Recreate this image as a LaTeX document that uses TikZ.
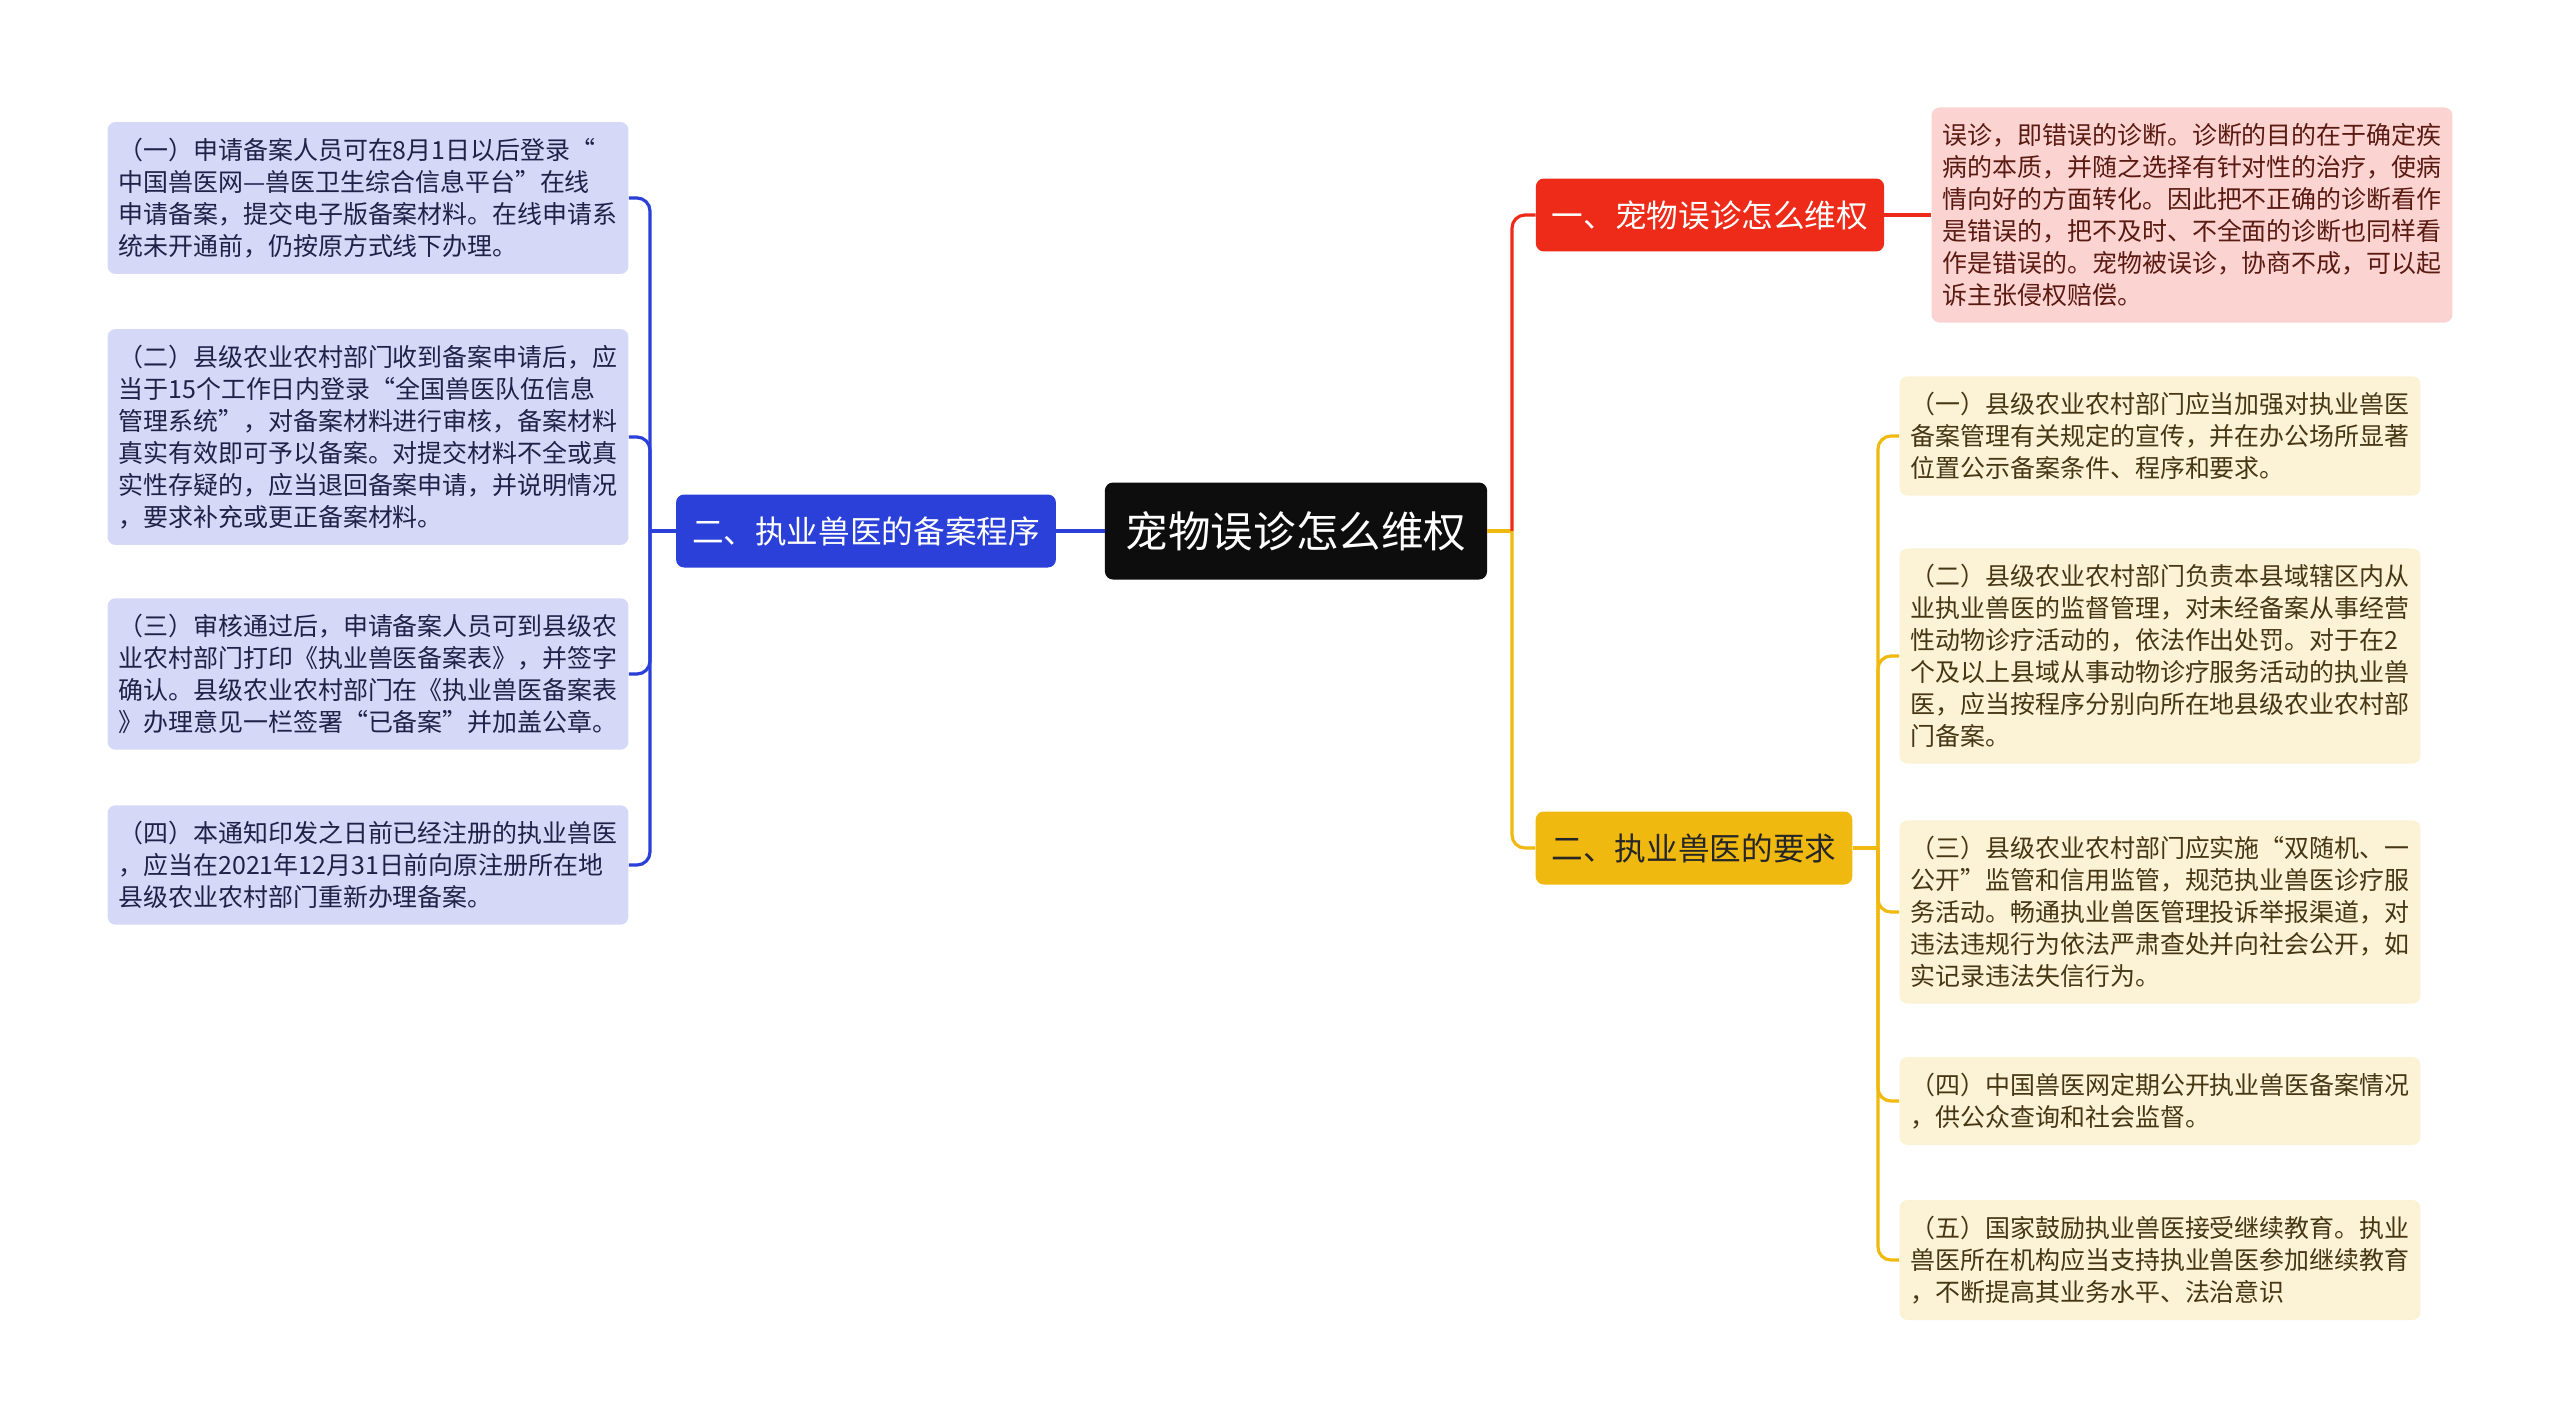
\documentclass[tikz,border=0pt]{standalone}
\usepackage{fontspec}
\setmainfont{Noto Sans CJK SC}
\definecolor{rootblack}{HTML}{0D0D0D}
\definecolor{regblue}{HTML}{2A40D8}
\definecolor{regfill}{HTML}{D5D8F6}
\definecolor{regtext}{HTML}{1E2248}
\definecolor{wrongred}{HTML}{EE2A18}
\definecolor{wrongfill}{HTML}{FBD4D1}
\definecolor{wrongtext}{HTML}{5A1A12}
\definecolor{reqyellow}{HTML}{F0B90F}
\definecolor{reqfill}{HTML}{FCF2D5}
\definecolor{reqtext}{HTML}{463714}
\begin{document}
\begin{tikzpicture}[x=0.02cm, y=-0.02cm,
        leaf/.style={rounded corners=0.16cm, inner xsep=0.22cm, inner ysep=0.32cm, text width=9.98cm, align=left, font=\fontsize{14.2pt}{18.2pt}\selectfont},
        branch/.style={rounded corners=0.16cm, inner xsep=0.32cm, minimum height=1.46cm, font=\fontsize{18pt}{22pt}\selectfont},
        link/.style={line width=1.8pt, rounded corners=0.26cm}]
        \fill[white] (0,0) rectangle (2560,1427);
        \node (root) [fill=rootblack, text=white, rounded corners=0.16cm, inner xsep=0.42cm, minimum height=1.94cm, font=\fontsize{24.2pt}{28pt}\selectfont, anchor=center] at (1296,531) {宠物误诊怎么维权};
        \node (reg) [branch, fill=regblue, text=white, anchor=center] at (866,531) {二、执业兽医的备案程序};
        \node (wrong) [branch, fill=wrongred, text=white, anchor=center] at (1710,215) {一、宠物误诊怎么维权};
        \node (req) [branch, fill=reqyellow, text=black!85, anchor=center] at (1694,848) {二、执业兽医的要求};
        \node (regA) [leaf, fill=regfill, text=regtext, anchor=center] at (368,198) {（一）申请备案人员可在8月1日以后登录“\\中国兽医网—兽医卫生综合信息平台”在线\\申请备案，提交电子版备案材料。在线申请系\\统未开通前，仍按原方式线下办理。};
        \node (regB) [leaf, fill=regfill, text=regtext, anchor=center] at (368,437) {（二）县级农业农村部门收到备案申请后，应\\当于15个工作日内登录“全国兽医队伍信息\\管理系统”，对备案材料进行审核，备案材料\\真实有效即可予以备案。对提交材料不全或真\\实性存疑的，应当退回备案申请，并说明情况\\，要求补充或更正备案材料。};
        \node (regC) [leaf, fill=regfill, text=regtext, anchor=center] at (368,674) {（三）审核通过后，申请备案人员可到县级农\\业农村部门打印《执业兽医备案表》，并签字\\确认。县级农业农村部门在《执业兽医备案表\\》办理意见一栏签署“已备案”并加盖公章。};
        \node (regD) [leaf, fill=regfill, text=regtext, anchor=center] at (368,865) {（四）本通知印发之日前已经注册的执业兽医\\，应当在2021年12月31日前向原注册所在地\\县级农业农村部门重新办理备案。};
        \node (wrongA) [leaf, fill=wrongfill, text=wrongtext, anchor=center] at (2192,215) {误诊，即错误的诊断。诊断的目的在于确定疾\\病的本质，并随之选择有针对性的治疗，使病\\情向好的方面转化。因此把不正确的诊断看作\\是错误的，把不及时、不全面的诊断也同样看\\作是错误的。宠物被误诊，协商不成，可以起\\诉主张侵权赔偿。};
        \node (reqA) [leaf, fill=reqfill, text=reqtext, anchor=center] at (2160,436) {（一）县级农业农村部门应当加强对执业兽医\\备案管理有关规定的宣传，并在办公场所显著\\位置公示备案条件、程序和要求。};
        \node (reqB) [leaf, fill=reqfill, text=reqtext, anchor=center] at (2160,656) {（二）县级农业农村部门负责本县域辖区内从\\业执业兽医的监督管理，对未经备案从事经营\\性动物诊疗活动的，依法作出处罚。对于在2\\个及以上县域从事动物诊疗服务活动的执业兽\\医，应当按程序分别向所在地县级农业农村部\\门备案。};
        \node (reqC) [leaf, fill=reqfill, text=reqtext, anchor=center] at (2160,912) {（三）县级农业农村部门应实施“双随机、一\\公开”监管和信用监管，规范执业兽医诊疗服\\务活动。畅通执业兽医管理投诉举报渠道，对\\违法违规行为依法严肃查处并向社会公开，如\\实记录违法失信行为。};
        \node (reqD) [leaf, fill=reqfill, text=reqtext, anchor=center] at (2160,1101) {（四）中国兽医网定期公开执业兽医备案情况\\，供公众查询和社会监督。};
        \node (reqE) [leaf, fill=reqfill, text=reqtext, anchor=center] at (2160,1260) {（五）国家鼓励执业兽医接受继续教育。执业\\兽医所在机构应当支持执业兽医参加继续教育\\，不断提高其业务水平、法治意识};
        \coordinate (lfork) at (650,531);
        \coordinate (rfork) at (1512,531);
        \coordinate (yfork) at (1878,848);
        \draw[link, regblue] (root.west) -- (reg.east);
        \draw[link, regblue] (reg.west) -- (lfork);
        \foreach \n in {regA,regB,regC,regD}
                \draw[link, regblue] (lfork) |- (\n.east);
        \draw[link, reqyellow] (root.east) -- (rfork);
        \draw[link, wrongred] (rfork) |- (wrong.west);
        \draw[link, reqyellow] (rfork) |- (req.west);
        \draw[link, wrongred] (wrong.east) -- (wrongA.west);
        \draw[link, reqyellow] (req.east) -- (yfork);
        \foreach \n in {reqA,reqB,reqC,reqD,reqE}
                \draw[link, reqyellow] (yfork) |- (\n.west);
\end{tikzpicture}
\end{document}
